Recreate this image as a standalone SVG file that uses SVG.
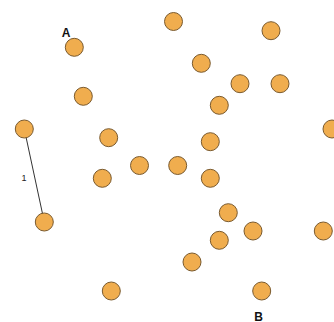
<svg xmlns="http://www.w3.org/2000/svg" width="334" height="322" viewBox="0 0 334 322">
<style>
.n{fill:#F0AD4E;stroke:#7A5A2E;stroke-width:1}
.lbl{font-family:"Liberation Sans",Arial,sans-serif;font-weight:bold;font-size:12px;fill:#111}
.el{font-family:"Liberation Sans",Arial,sans-serif;font-size:9px;fill:#222}
</style>
<rect width="334" height="322" fill="#fff"/>
<g id="connectors">
<line x1="24.3" y1="129" x2="44.3" y2="222" stroke="#333" stroke-width="1"/>
<text class="el" x="24" y="181" text-anchor="middle">1</text>
</g>
<g id="nA"><circle class="n" cx="74.3" cy="47.3" r="9"/><text class="lbl" x="66" y="36.5" text-anchor="middle">A</text></g>
<g id="n2"><circle class="n" cx="83.3" cy="96.3" r="9"/></g>
<g id="n3"><circle class="n" cx="24.3" cy="129" r="9"/></g>
<g id="n4"><circle class="n" cx="108.7" cy="137.7" r="9"/></g>
<g id="n5"><circle class="n" cx="173.5" cy="21.5" r="9"/></g>
<g id="n6"><circle class="n" cx="271" cy="30.7" r="9"/></g>
<g id="n7"><circle class="n" cx="201.3" cy="63.3" r="9"/></g>
<g id="n8"><circle class="n" cx="240" cy="83.7" r="9"/></g>
<g id="n9"><circle class="n" cx="280" cy="83.7" r="9"/></g>
<g id="n10"><circle class="n" cx="219.3" cy="105.3" r="9"/></g>
<g id="n11"><circle class="n" cx="210.3" cy="141.7" r="9"/></g>
<g id="n12"><circle class="n" cx="332" cy="129" r="9"/></g>
<g id="n13"><circle class="n" cx="102.3" cy="178.3" r="9"/></g>
<g id="n14"><circle class="n" cx="139.5" cy="165.5" r="9"/></g>
<g id="n15"><circle class="n" cx="177.7" cy="165.5" r="9"/></g>
<g id="n16"><circle class="n" cx="44.3" cy="222" r="9"/></g>
<g id="n17"><circle class="n" cx="111.3" cy="291" r="9"/></g>
<g id="n18"><circle class="n" cx="210.3" cy="178.3" r="9"/></g>
<g id="n19"><circle class="n" cx="228.3" cy="212.7" r="9"/></g>
<g id="n20"><circle class="n" cx="253" cy="231" r="9"/></g>
<g id="n21"><circle class="n" cx="219.3" cy="240.3" r="9"/></g>
<g id="n22"><circle class="n" cx="323.3" cy="231" r="9"/></g>
<g id="n23"><circle class="n" cx="192" cy="262" r="9"/></g>
<g id="nB"><circle class="n" cx="261.7" cy="291" r="9"/><text class="lbl" x="258.7" y="320.5" text-anchor="middle">B</text></g>
</svg>
